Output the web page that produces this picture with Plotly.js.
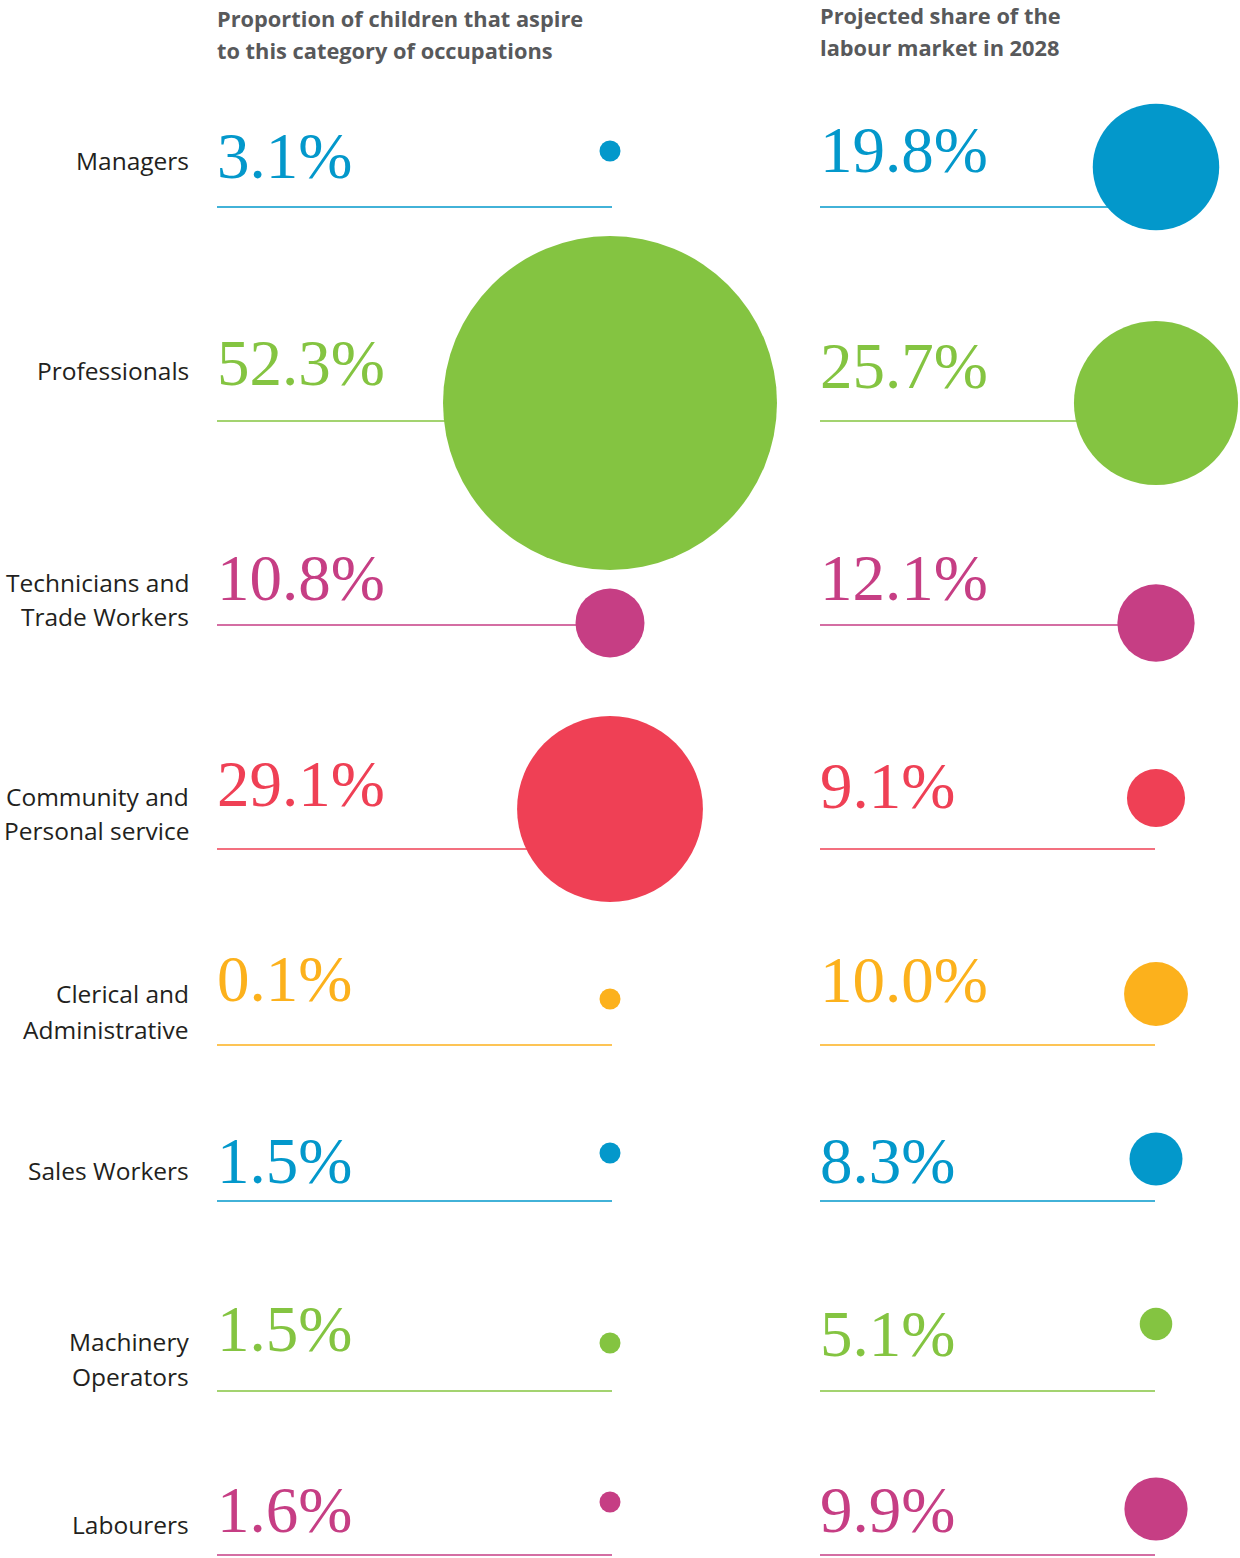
<!DOCTYPE html>
<html>
<head>
<meta charset="utf-8">
<script src="https://cdn.plot.ly/plotly-3.0.1.min.js"></script>
<style>html,body{margin:0;padding:0;background:#fff;}#chart{width:1240px;height:1558px;}</style>
</head>
<body>
<div id="chart"></div>
<script>
// ---- data ----
const categories = ['Managers', 'Professionals', 'Technicians and<br>Trade Workers', 'Community and<br>Personal service', 'Clerical and<br>Administrative', 'Sales Workers', 'Machinery<br>Operators', 'Labourers'];
const aspire = [3.1, 52.3, 10.8, 29.1, 0.1, 1.5, 1.5, 1.6];
const projected = [19.8, 25.7, 12.1, 9.1, 10.0, 8.3, 5.1, 9.9];
const headerLeft = 'Proportion of children that aspire<br>to this category of occupations';
const headerRight = 'Projected share of the<br>labour market in 2028';
const colors = ['#0398CB', '#84C441', '#C63E84', '#EF4055', '#FCB11C', '#0398CB', '#84C441', '#C63E84'];

// ---- layout (positions, in page pixels) ----
const lineY = [207, 421, 625, 849, 1045, 1201, 1391, 1555];
const pctBaseL = [178, 385, 600, 806, 1001, 1183, 1351, 1532];
const pctBaseR = [172, 388, 600, 808, 1002, 1183, 1356, 1532];
const dotYL = [151, 403, 623, 809, 999, 1153, 1343, 1502];
const dotYR = [167, 403, 623, 798, 994, 1159, 1324, 1509];
const labelBase = [[170], [380], [592, 626], [806, 840], [1003, 1039], [1180], [1351, 1386], [1534]];
const col = {labelX: 190, lText: 217, lEnd: 612, lDot: 610, rText: 820, rEnd: 1155, rDot: 1156};
const pxPerPct = 334 / 52.3;

const traces = [];
const annotations = [];
const fmt = v => v.toFixed(1) + '%';

categories.forEach((c, i) => {
  traces.push({x: [col.lText, col.lEnd], y: [lineY[i], lineY[i]], mode: 'lines', line: {color: colors[i], width: 1.3}, hoverinfo: 'skip', showlegend: false});
  traces.push({x: [col.rText, col.rEnd], y: [lineY[i], lineY[i]], mode: 'lines', line: {color: colors[i], width: 1.3}, hoverinfo: 'skip', showlegend: false});
});

traces.push({
  x: aspire.map(() => col.lDot), y: dotYL, mode: 'markers', showlegend: false,
  marker: {size: aspire, sizemode: 'diameter', sizeref: 1 / pxPerPct, sizemin: 10.5, color: colors, opacity: 1, line: {width: 0}},
  text: categories, hovertemplate: '%{text}: %{marker.size}%<extra></extra>'
});
traces.push({
  x: projected.map(() => col.rDot), y: dotYR, mode: 'markers', showlegend: false,
  marker: {size: projected, sizemode: 'diameter', sizeref: 1 / pxPerPct, sizemin: 10.5, color: colors, opacity: 1, line: {width: 0}},
  text: categories, hovertemplate: '%{text}: %{marker.size}%<extra></extra>'
});

const pctFont = (c) => ({family: '"Liberation Serif", "DejaVu Serif", serif', size: 65, color: c});
const labFont = {family: '"Open Sans", "Noto Sans", sans-serif', size: 24.5, color: '#231F20'};

categories.forEach((c, i) => {
  annotations.push({x: col.lText - 1, y: pctBaseL[i] - 22, xref: 'x', yref: 'y', xanchor: 'left', yanchor: 'middle', text: fmt(aspire[i]), showarrow: false, font: pctFont(colors[i]), borderpad: 0});
  annotations.push({x: col.rText - 1, y: pctBaseR[i] - 22, xref: 'x', yref: 'y', xanchor: 'left', yanchor: 'middle', text: fmt(projected[i]), showarrow: false, font: pctFont(colors[i]), borderpad: 0});
  c.split('<br>').forEach((ln, k) => {
    annotations.push({x: col.labelX, y: labelBase[i][k] - 10, xref: 'x', yref: 'y', xanchor: 'right', yanchor: 'middle', text: ln, showarrow: false, font: labFont, borderpad: 0});
  });
});

const hdrFont = {family: '"Open Sans", "Noto Sans", sans-serif', size: 21.8, color: '#58595B', weight: 700};
const hdrL = [26, 58], hdrR = [23, 55];
headerLeft.split('<br>').forEach((ln, k) => annotations.push({x: col.lText - 1, y: hdrL[k] - 8, xref: 'x', yref: 'y', xanchor: 'left', yanchor: 'middle', text: '<b>' + ln + '</b>', showarrow: false, font: hdrFont, borderpad: 0}));
headerRight.split('<br>').forEach((ln, k) => annotations.push({x: col.rText - 1, y: hdrR[k] - 8, xref: 'x', yref: 'y', xanchor: 'left', yanchor: 'middle', text: '<b>' + ln + '</b>', showarrow: false, font: hdrFont, borderpad: 0}));

const layout = {
  width: 1240, height: 1558,
  margin: {l: 0, r: 0, t: 0, b: 0},
  paper_bgcolor: '#ffffff', plot_bgcolor: '#ffffff',
  xaxis: {range: [0, 1240], visible: false, fixedrange: true},
  yaxis: {range: [1558, 0], visible: false, fixedrange: true},
  annotations: annotations,
  showlegend: false
};

Plotly.newPlot('chart', traces, layout, {displayModeBar: false, staticPlot: true});
</script>
</body>
</html>
